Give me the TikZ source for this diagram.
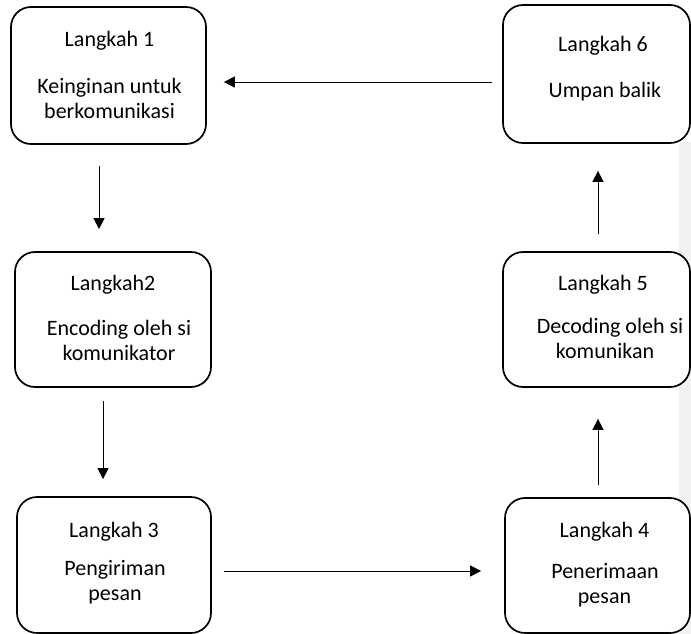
\documentclass[tikz,border=0pt]{standalone}
\usepackage{fontspec}
\setmainfont{Carlito}
\usetikzlibrary{arrows.meta}
\definecolor{stripgray}{RGB}{242,242,242}
\begin{document}
\begin{tikzpicture}[x=1pt,y=-1pt,
  box/.style={draw=black,line width=1.7pt,rounded corners=20pt,fill=white,inner sep=0pt},
  txt/.style={anchor=base,inner sep=0pt,font=\fontsize{22}{26}\selectfont},
  arr/.style={draw=black,line width=0.9pt,-{Triangle[length=11pt,width=11pt]}}]
\useasboundingbox (0,0) rectangle (691,634);
\fill[stripgray] (679,142) rectangle (691,634);
% boxes
\node[box,minimum width=195pt,minimum height=137pt] (b1) at (108.5,75.5) {};
\node[box,minimum width=187pt,minimum height=138pt] (b6) at (596.5,74) {};
\node[box,minimum width=196pt,minimum height=135pt] (b2) at (113,319.5) {};
\node[box,minimum width=187pt,minimum height=135pt] (b5) at (596.5,319.5) {};
\node[box,minimum width=194pt,minimum height=136pt] (b3) at (114,565) {};
\node[box,minimum width=185pt,minimum height=135pt] (b4) at (597.5,565.5) {};
% texts
\node[txt] (t1a) at (109.5,47) {Langkah 1};
\node[txt] (t1b) at (109.5,93) {Keinginan untuk};
\node[txt] (t1c) at (109.5,118) {berkomunikasi};
\node[txt] (t6a) at (603,52) {Langkah 6};
\node[txt] (t6b) at (605,97) {Umpan balik};
\node[txt] (t2a) at (113,290) {Langkah2};
\node[txt] (t2b) at (119,335) {Encoding oleh si};
\node[txt] (t2c) at (119,360) {komunikator};
\node[txt] (t5a) at (603,290) {Langkah 5};
\node[txt] (t5b) at (610,333) {Decoding oleh si};
\node[txt] (t5c) at (605,358) {komunikan};
\node[txt] (t3a) at (114,537) {Langkah 3};
\node[txt] (t3b) at (115,575) {Pengiriman};
\node[txt] (t3c) at (115,600) {pesan};
\node[txt] (t4a) at (604.5,537) {Langkah 4};
\node[txt] (t4b) at (605,578) {Penerimaan};
\node[txt] (t4c) at (604.5,603) {pesan};
% connector guides
\coordinate (h1) at (0,82);
\coordinate (h3) at (0,571);
\coordinate (v12) at (99,0);
\coordinate (v23) at (103,0);
\coordinate (vR) at (598,0);
% connectors
\draw[arr,shorten <=10pt,shorten >=17pt] (b6.west |- h1) -- (b1.east |- h1);
\draw[arr,shorten <=21pt,shorten >=22pt] (b1.south -| v12) -- (b2.north -| v12);
\draw[arr,shorten <=13pt,shorten >=17pt] (b2.south -| v23) -- (b3.north -| v23);
\draw[arr,shorten <=12pt,shorten >=23pt] (b3.east |- h3) -- (b4.west |- h3);
\draw[arr,shorten <=12pt,shorten >=31pt] (b4.north -| vR) -- (b5.south -| vR);
\draw[arr,shorten <=17pt,shorten >=27pt] (b5.north -| vR) -- (b6.south -| vR);
\end{tikzpicture}
\end{document}
